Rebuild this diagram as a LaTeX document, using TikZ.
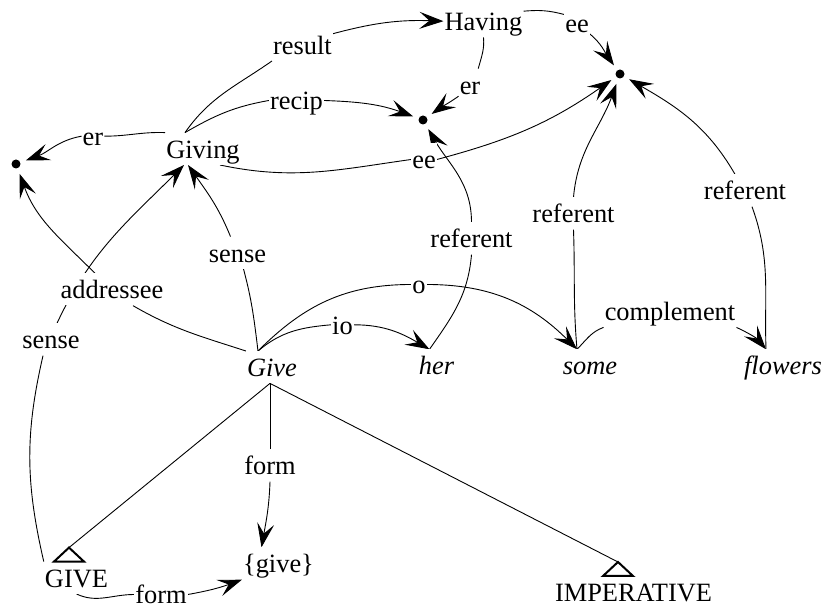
\documentclass[tikz,border=0pt]{standalone}
\usepackage{fontspec}
\setmainfont{Liberation Serif}
\newfontfamily\diagfont{Liberation Serif}
\usetikzlibrary{arrows.meta}
\pgfdeclarelayer{background}
\pgfsetlayers{background,main}
\begin{document}
\begin{tikzpicture}[x=1pt,y=1pt,
  every node/.style={font=\diagfont\fontsize{26.4}{30}\selectfont},
  word/.style={anchor=base, inner xsep=1pt, inner ysep=6.5pt,
    text height=19pt, text depth=0pt, fill=white},
  lab/.style={word},
  wi/.style={word, font=\diagfont\fontsize{26.4}{30}\selectfont\itshape},
  dot/.style={circle, fill=black, minimum size=9pt, inner sep=0pt, outer sep=6pt},
  link/.style={line width=0.9pt},
  arr/.style={link, -{Stealth[length=24pt,width=17pt,inset=10pt]}},
  isatri/.style={line width=2pt, line join=miter}
]
\useasboundingbox (0,0) rectangle (827,609);

% concepts and words
\node[word] (Having) at (483.5,578.3) {Having};
\node[word] (Giving) at (203,450.7) {Giving};
\node[wi] (Give) at (272,232.3) {Give};
\node[wi] (her) at (436.5,234) {her};
\node[wi] (some) at (590,234) {some};
\node[wi] (flowers) at (783,234) {flowers};
\node[word] (give) at (278.5,36) {\{give\}};
\node[word] (GIVE) at (76.5,21.7) {GIVE};
\node[word] (IMP) at (633.5,7.3) {IMPERATIVE};
\node[dot] (dotR) at (620,535) {};
\node[dot] (dotM) at (423,489) {};
\node[dot] (dotL) at (16,445) {};

% relation labels
\node[lab] (result) at (302.5,554.7) {result};
\node[lab] (recip) at (296.5,499) {recip};
\node[lab] (erL) at (93,463.3) {er};
\node[lab] (eeG) at (424,440) {ee};
\node[lab] (eeH) at (577,576.3) {ee};
\node[lab] (erH) at (470,514.7) {er};
\node[lab] (refF) at (745,409) {referent};
\node[lab] (refS) at (573.5,386) {referent};
\node[lab] (refH) at (471.5,361) {referent};
\node[lab] (o) at (419,315) {o};
\node[lab] (compl) at (670,288.3) {complement};
\node[lab] (io) at (342.5,274.7) {io};
\node[lab] (senseA) at (237.5,346.7) {sense};
\node[lab] (addr) at (112,310) {addressee};
\node[lab] (senseB) at (51,260) {sense};
\node[lab] (formA) at (270,134) {form};
\node[lab, inner ysep=2pt] (formB) at (161,5) {form};

% attachment points
\coordinate (giveTop) at ([xshift=-14pt]Give.north);
\coordinate (giveFoot) at ([xshift=-2pt]Give.south);
\coordinate (herTop) at ([xshift=-7pt]her.north);
\coordinate (someTop) at ([xshift=-13pt]some.north);
\coordinate (flowersTop) at ([xshift=-17pt]flowers.north);
\coordinate (givingTop) at ([xshift=-18pt]Giving.north);
\coordinate (isaGIVE) at ([shift={(-7.5pt,14pt)}]GIVE.north);
\coordinate (isaIMP) at ([shift={(-15.5pt,14pt)}]IMP.north);

\begin{pgfonlayer}{background}
\draw[link] (givingTop) to[out=55,in=215] (result.south west);
\draw[arr] (result.20) to[out=15,in=178] (Having.west);
\draw[link] (givingTop) to[out=30,in=190] (recip.west);
\draw[arr] (recip.east) to[out=-2,in=160] (dotM);
\draw[link] (Giving.north west) to[out=178,in=0] (erL.east);
\draw[arr] (erL.west) to[out=190,in=20] (dotL);
\draw[link] ([xshift=17pt]Giving.south) to[out=-12,in=188] (eeG.west);
\draw[arr] (eeG.east) to[out=15,in=215] (dotR);
\draw[link] (Having.south) to[out=-85,in=75] (erH.63);
\draw[arr] (erH.225) to[out=215,in=35] (dotM);
\draw[link] (Having.14) to[out=5,in=165] (eeH.146);
\draw[arr] (eeH.-40) to[out=-40,in=125] (dotR);
\draw[link] (herTop) to[out=55,in=-95] (refH.south);
\draw[arr] (refH.north) to[out=90,in=-60] (dotM);
\draw[link] (someTop) to[out=95,in=-88] (refS.south);
\draw[arr] (refS.north) to[out=85,in=-110] (dotR);
\draw[link] (flowersTop) to[out=92,in=-70] ([xshift=7pt]refF.south);
\draw[arr] ([xshift=-10pt]refF.north) to[out=120,in=-30] (dotR);
\draw[link] (someTop) to[out=45,in=200] (compl.south west);
\draw[arr] (compl.south east) to[out=-25,in=130] (flowersTop);
\draw[link] (giveTop) to[out=45,in=180] (o.west);
\draw[arr] (o.east) to[out=0,in=135] (someTop);
\draw[link] (giveTop) to[out=40,in=185] (io.west);
\draw[arr] (io.east) to[out=0,in=150] (herTop);
\draw[link] (giveTop) to[out=97,in=-75] ([xshift=6pt]senseA.south);
\draw[arr] ([xshift=-7pt]senseA.north) to[out=112,in=-55] ([xshift=-15pt]Giving.south);
\draw[link] (GIVE.north west) to[out=103,in=-103] ([xshift=-8pt]senseB.south);
\draw[arr] ([xshift=6pt]senseB.north) to[out=65,in=-135] ([xshift=-19pt]Giving.south);
\draw[link] (Give.north west) to[out=162,in=-30] ([xshift=21pt]addr.south);
\draw[arr] ([xshift=-17pt]addr.north) to[out=135,in=-70] (dotL);
\draw[link] (giveFoot) -- (formA);
\draw[arr] (formA.south) to[out=-92,in=80] ([xshift=-17pt]give.north);
\draw[link] (GIVE.south) to[out=-25,in=180] (formB.west);
\draw[arr] (formB.east) to[out=10,in=200] (give.south west);
\draw[link] (giveFoot) -- (isaGIVE);
\draw[link] (giveFoot) -- (isaIMP);
\end{pgfonlayer}

% isa triangles
\draw[isatri] (isaGIVE) -- ++(-15,-14) -- ++(30,0) -- cycle;
\draw[isatri] (isaIMP) -- ++(-15,-14) -- ++(30,0) -- cycle;
\end{tikzpicture}
\end{document}
